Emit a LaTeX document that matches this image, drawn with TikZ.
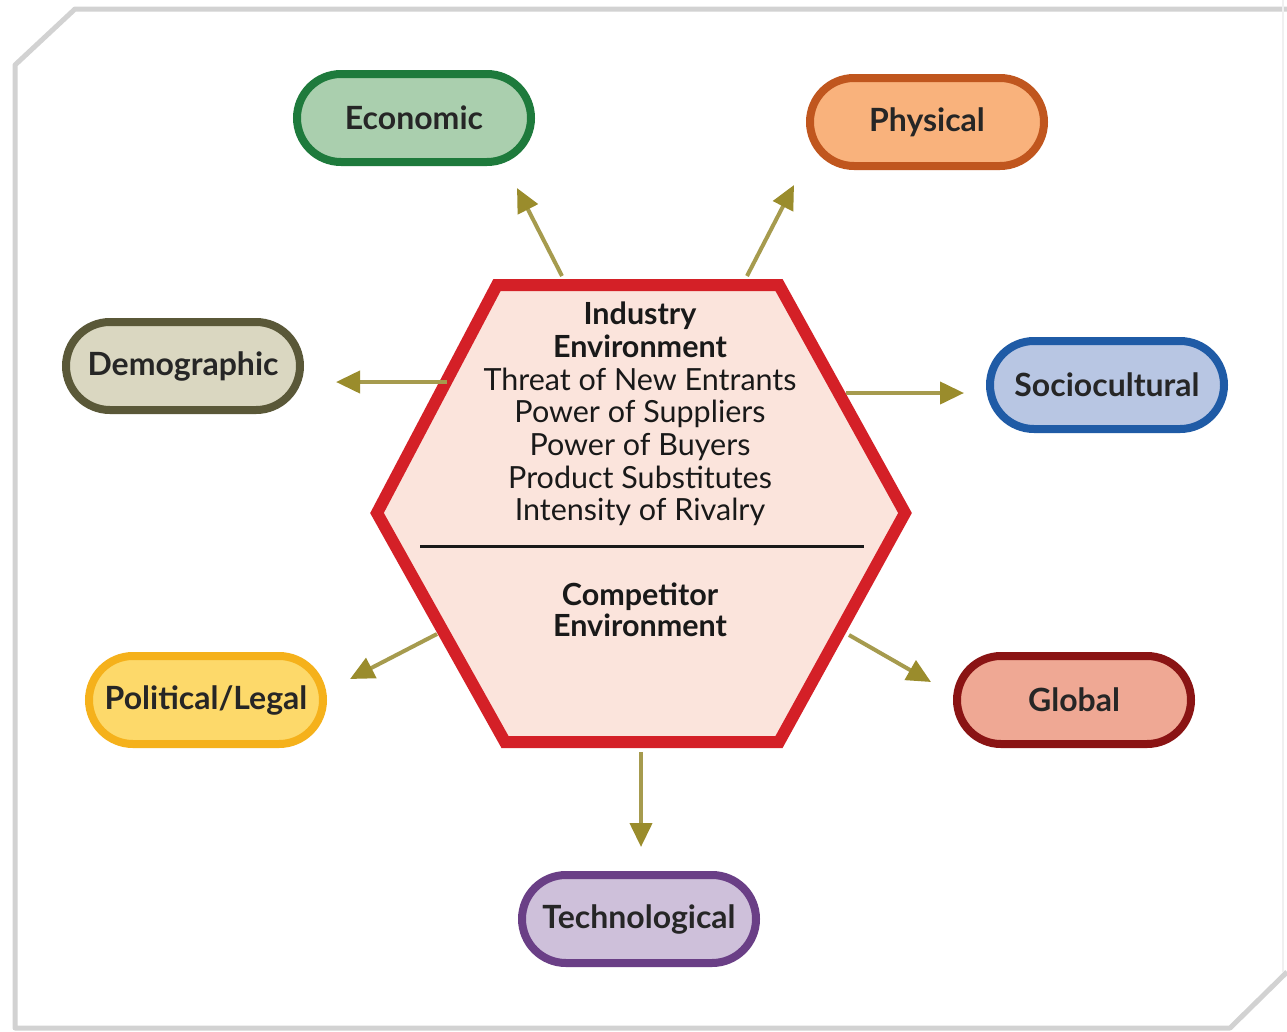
\documentclass[tikz,border=0pt]{standalone}
\usepackage{fontspec}
\setmainfont{Lato}
\usetikzlibrary{arrows.meta}
\definecolor{framegray}{HTML}{D2D2D2}
\definecolor{hexred}{HTML}{D42027}
\definecolor{hexfill}{HTML}{FBE4DC}
\definecolor{arrowcol}{HTML}{A69B4E}
\definecolor{tipcol}{HTML}{9A8C2C}
\definecolor{ecoF}{HTML}{AACFAE}\definecolor{ecoD}{HTML}{1E7A3C}
\definecolor{phyF}{HTML}{F9B27C}\definecolor{phyD}{HTML}{C0561E}
\definecolor{demF}{HTML}{DAD7C1}\definecolor{demD}{HTML}{5A5838}
\definecolor{socF}{HTML}{B8C6E3}\definecolor{socD}{HTML}{1F5BA6}
\definecolor{polF}{HTML}{FDD96A}\definecolor{polD}{HTML}{F5B11B}
\definecolor{gloF}{HTML}{EFA894}\definecolor{gloD}{HTML}{8A1414}
\definecolor{tecF}{HTML}{CEC0DA}\definecolor{tecD}{HTML}{6A3F86}
\begin{document}
\begin{tikzpicture}[x=1pt,y=-1pt,
  pill/.style={draw=#1D, fill=#1F, line width=8pt, rounded corners=44pt,
    minimum width=234pt, minimum height=88pt, inner sep=0pt,
    font=\bfseries\fontsize{32}{34}\selectfont, text=black!85},
  flow/.style={draw=arrowcol, line width=4pt,
    -{Triangle[length=24pt,width=22pt,fill=tipcol,color=tipcol]}},
  hextext/.style={align=center, font=\fontsize{30.5}{32.7}\selectfont, text=black!90}
]
\useasboundingbox (0,0) rectangle (1287,1031);
\fill[white] (0,0) rectangle (1287,1031);
% frame
\draw[framegray, line width=5pt, line join=round]
  (1287,9) -- (75,9) -- (15,65) -- (15,1028) -- (1230,1028) -- (1287,972);
\draw[black!6, line width=2pt] (1283,0) -- (1283,972);
% hexagon
\draw[hexred, fill=hexfill, line width=12pt, line join=miter]
  (497,285) -- (779,285) -- (905,513) -- (779,742) -- (505,742) -- (377,513) -- cycle;
\coordinate (divL) at (420,546);
\coordinate (divR) at (864,546);
\draw[black!90, line width=3pt] (divL) -- (divR);
\node[hextext] (ind) at (640,414)
  {\textbf{Industry}\\ \textbf{Environment}\\ Threat of New Entrants\\ Power of Suppliers\\
   Power of Buyers\\ Product Substitutes\\ Intensity of Rivalry};
\node[hextext, font=\bfseries\fontsize{30.5}{31}\selectfont] (comp) at (640,610)
  {Competitor\\ Environment};
% outer nodes
\node[pill=eco] (eco) at (414,118) {Economic};
\node[pill=phy] (phy) at (927,122) {Physical};
\node[pill=dem] (dem) at (183,366) {Demographic};
\node[pill=soc] (soc) at (1107,385) {Sociocultural};
\node[pill=pol] (pol) at (206,700) {Political/Legal};
\node[pill=glo] (glo) at (1074,700) {Global};
\node[pill=tec] (tec) at (639,919) {Technological};
% arrow endpoints
\coordinate (s1) at (562,276); \coordinate (e1) at (517,188);
\coordinate (s2) at (747,276); \coordinate (e2) at (794,185);
\coordinate (s3) at (447,382); \coordinate (e3) at (336,382);
\coordinate (s4) at (846,393); \coordinate (e4) at (964,393);
\coordinate (s5) at (437,634); \coordinate (e5) at (350,679);
\coordinate (s6) at (849,635); \coordinate (e6) at (931,682);
\coordinate (s7) at (641,752); \coordinate (e7) at (641,847);
\draw[flow] (s1) -- (e1);
\draw[flow] (s2) -- (e2);
\draw[flow] (s3) -- (e3);
\draw[flow] (s4) -- (e4);
\draw[flow] (s5) -- (e5);
\draw[flow] (s6) -- (e6);
\draw[flow] (s7) -- (e7);
\end{tikzpicture}
\end{document}
